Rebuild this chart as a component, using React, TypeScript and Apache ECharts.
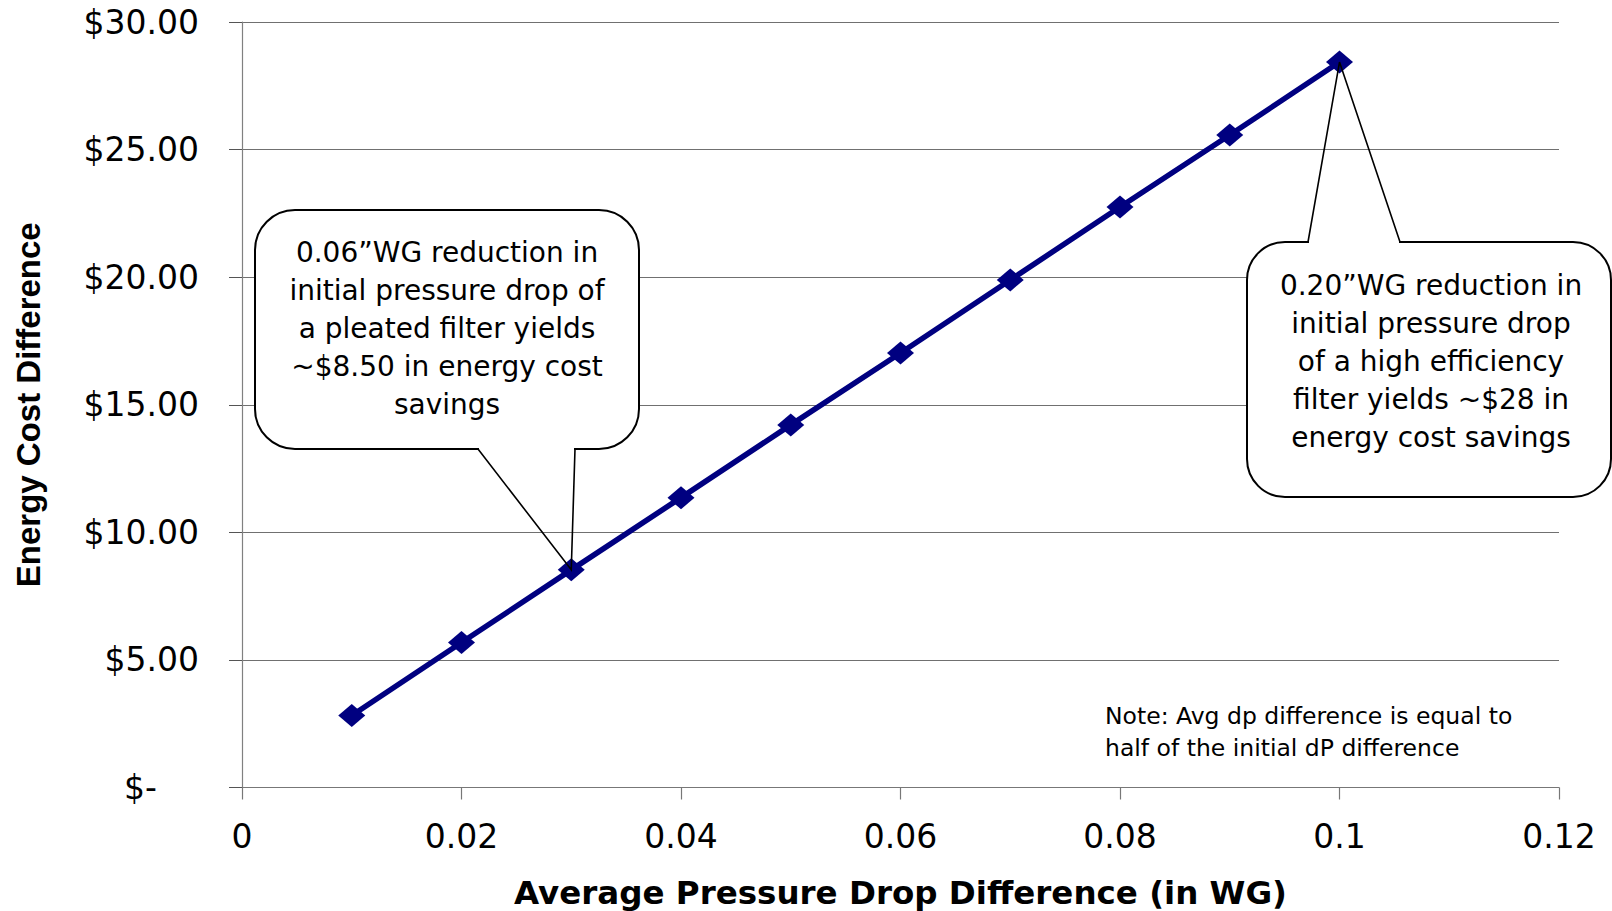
import React, { useEffect, useRef } from 'react';
import * as echarts from 'echarts';

// Data
const pressureDrop = [0.01, 0.02, 0.03, 0.04, 0.05, 0.06, 0.07, 0.08, 0.09, 0.1];
const energyCost = [2.82, 5.68, 8.53, 11.36, 14.21, 17.03, 19.89, 22.75, 25.57, 28.43];

const xAxisTitle = 'Average Pressure Drop Difference (in WG)';
const yAxisTitle = 'Energy Cost Difference';

const callout1Lines = [
  '0.06\u201DWG reduction in',
  'initial pressure drop of',
  'a pleated filter yields',
  '~$8.50 in energy cost',
  'savings',
];
const callout2Lines = [
  '0.20\u201DWG reduction in',
  'initial pressure drop',
  'of a high efficiency',
  'filter yields ~$28 in',
  'energy cost savings',
];
const noteLines = ['Note: Avg dp difference is equal to', 'half of the initial dP difference'];

const TICK_FONT = 'DejaVu Sans';

export default function App() {
  const ref = useRef<HTMLDivElement>(null);

  useEffect(() => {
    const chart = echarts.init(ref.current!, null, { renderer: 'svg' });
    chart.setOption({
      animation: false,
      backgroundColor: '#ffffff',
      grid: {
        left: 242,
        right: 53,
        top: 22,
        bottom: 123.5,
        containLabel: false,
        outerBoundsMode: 'none',
      },
      xAxis: {
        type: 'value',
        min: 0,
        max: 0.12,
        interval: 0.02,
        name: xAxisTitle,
        nameLocation: 'middle',
        nameGap: 89,
        nameTextStyle: {
          fontFamily: 'DejaVu Sans',
          fontWeight: 'bold',
          fontSize: 32.5,
          color: '#000',
        },
        axisLine: { show: true, lineStyle: { color: '#777', width: 1.2 } },
        axisTick: { show: true, inside: false, length: 12, lineStyle: { color: '#777', width: 1.2 } },
        axisLabel: {
          margin: 32,
          fontFamily: TICK_FONT,
          fontSize: 33,
          color: '#000',
          formatter: (v: number) => String(parseFloat(v.toFixed(2))),
        },
        splitLine: { show: false },
      },
      yAxis: {
        type: 'value',
        min: 0,
        max: 30,
        interval: 5,
        name: yAxisTitle,
        nameLocation: 'middle',
        nameGap: 197,
        nameTextStyle: {
          fontFamily: 'Liberation Sans',
          fontWeight: 'bold',
          fontSize: 33,
          color: '#000',
        },
        axisLine: { show: true, lineStyle: { color: '#808080', width: 1.2 } },
        axisTick: { show: true, inside: false, length: 13, lineStyle: { color: '#555', width: 1 } },
        axisLabel: {
          margin: 43,
          fontFamily: TICK_FONT,
          fontSize: 33,
          color: '#000',
          formatter: (v: number) => (v === 0 ? '{z|$-}' : '$' + v.toFixed(2)),
          rich: {
            z: { fontFamily: TICK_FONT, fontSize: 33, color: '#000', padding: [0, 42, 0, 0] },
          },
        },
        splitLine: { show: true, lineStyle: { color: '#707070', width: 1 } },
      },
      series: [
        {
          type: 'line',
          data: pressureDrop.map((x, i) => [x, energyCost[i]]),
          symbol: 'diamond',
          symbolSize: [27, 23],
          showSymbol: true,
          itemStyle: { color: '#000080' },
          lineStyle: { color: '#000080', width: 5.5 },
          z: 3,
        },
      ],
    });

    const tip1 = chart.convertToPixel({ gridIndex: 0 }, [pressureDrop[2], energyCost[2]]) as number[];
    const tip2 = chart.convertToPixel({ gridIndex: 0 }, [pressureDrop[9], energyCost[9]]) as number[];

    const annoFont = { fontFamily: 'DejaVu Sans', fontSize: 28, fill: '#000', lineHeight: 38 };

    chart.setOption({
      graphic: [
        // Callout 1
        {
          type: 'rect',
          z: 100,
          shape: { x: 255, y: 210, width: 384, height: 239, r: 40 },
          style: { fill: '#fff', stroke: '#000', lineWidth: 2 },
        },
        {
          type: 'line',
          z: 101,
          shape: { x1: 479, y1: 449, x2: 574, y2: 449 },
          style: { stroke: '#fff', lineWidth: 4 },
        },
        {
          type: 'polyline',
          z: 102,
          shape: { points: [[478, 449], [tip1[0], tip1[1]], [575, 449]] },
          style: { stroke: '#000', lineWidth: 1.6, fill: null },
        },
        {
          type: 'text',
          z: 103,
          x: 447,
          y: 328,
          style: {
            ...annoFont,
            text: callout1Lines.join('\n'),
            align: 'center',
            verticalAlign: 'middle',
          },
        },
        // Callout 2
        {
          type: 'rect',
          z: 100,
          shape: { x: 1247, y: 242, width: 364, height: 255, r: 38 },
          style: { fill: '#fff', stroke: '#000', lineWidth: 2 },
        },
        {
          type: 'line',
          z: 101,
          shape: { x1: 1309, y1: 242, x2: 1399, y2: 242 },
          style: { stroke: '#fff', lineWidth: 4 },
        },
        {
          type: 'polyline',
          z: 102,
          shape: { points: [[1308, 242], [tip2[0], tip2[1]], [1400, 242]] },
          style: { stroke: '#000', lineWidth: 1.6, fill: null },
        },
        {
          type: 'text',
          z: 103,
          x: 1431,
          y: 361.5,
          style: {
            ...annoFont,
            text: callout2Lines.join('\n'),
            align: 'center',
            verticalAlign: 'middle',
          },
        },
        // Note
        {
          type: 'text',
          z: 103,
          x: 1105,
          y: 732,
          style: {
            fontFamily: 'DejaVu Sans',
            fontSize: 23.5,
            fill: '#000',
            lineHeight: 32,
            text: noteLines.join('\n'),
            align: 'left',
            verticalAlign: 'middle',
          },
        },
      ],
    });

    return () => chart.dispose();
  }, []);

  return (
    <div
      ref={ref}
      style={{ position: 'absolute', left: 0, top: 0, width: 1612, height: 911 }}
    />
  );
}
